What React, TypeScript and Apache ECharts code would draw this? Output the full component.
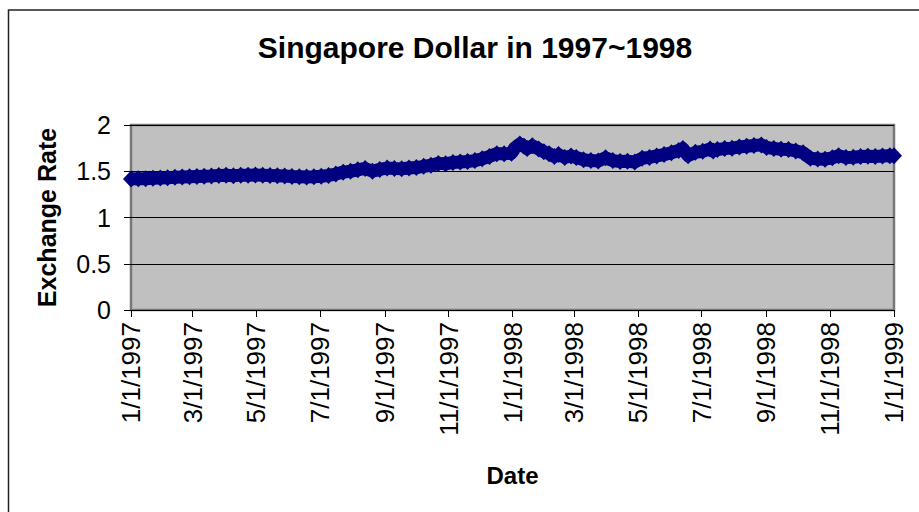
import React, { useEffect, useRef } from "react";
import * as echarts from "echarts";

const chartTitle = "Singapore Dollar in 1997~1998";
const xAxisTitle = "Date";
const yAxisTitle = "Exchange Rate";

const dates: string[] = [
  "1997-01-01", "1997-01-08", "1997-01-15", "1997-01-22", "1997-01-29",
  "1997-02-05", "1997-02-12", "1997-02-19", "1997-02-26",
  "1997-03-05", "1997-03-12", "1997-03-19", "1997-03-26",
  "1997-04-02", "1997-04-09", "1997-04-16", "1997-04-23", "1997-04-30",
  "1997-05-07", "1997-05-14", "1997-05-21", "1997-05-28",
  "1997-06-04", "1997-06-11", "1997-06-18", "1997-06-25",
  "1997-07-02", "1997-07-09", "1997-07-16", "1997-07-23", "1997-07-30",
  "1997-08-06", "1997-08-13", "1997-08-20", "1997-08-27",
  "1997-09-03", "1997-09-10", "1997-09-17", "1997-09-24",
  "1997-10-01", "1997-10-08", "1997-10-15", "1997-10-22", "1997-10-29",
  "1997-11-05", "1997-11-12", "1997-11-19", "1997-11-26",
  "1997-12-03", "1997-12-10", "1997-12-17", "1997-12-24", "1997-12-31",
  "1998-01-03", "1998-01-08", "1998-01-12", "1998-01-15", "1998-01-20", "1998-01-26", "1998-01-31",
  "1998-02-05", "1998-02-10", "1998-02-14", "1998-02-20", "1998-02-26",
  "1998-03-03", "1998-03-10", "1998-03-17", "1998-03-24", "1998-03-31",
  "1998-04-07", "1998-04-14", "1998-04-21", "1998-04-28",
  "1998-05-05", "1998-05-12", "1998-05-19", "1998-05-26",
  "1998-06-02", "1998-06-09", "1998-06-13", "1998-06-18", "1998-06-25",
  "1998-07-02", "1998-07-09", "1998-07-12", "1998-07-16", "1998-07-23", "1998-07-30",
  "1998-08-06", "1998-08-13", "1998-08-20", "1998-08-27",
  "1998-09-01", "1998-09-08", "1998-09-15", "1998-09-22", "1998-09-29",
  "1998-10-06", "1998-10-13", "1998-10-20", "1998-10-27",
  "1998-11-03", "1998-11-09", "1998-11-16", "1998-11-23", "1998-11-30",
  "1998-12-07", "1998-12-14", "1998-12-21", "1998-12-28", "1999-01-01",
];

const rates: number[] = [
  1.415, 1.418, 1.42, 1.425, 1.428,
  1.43, 1.435, 1.438, 1.44,
  1.443, 1.447, 1.45, 1.455,
  1.456, 1.452, 1.458, 1.456, 1.46,
  1.458, 1.455, 1.452, 1.448,
  1.443, 1.44, 1.438, 1.44,
  1.447, 1.455, 1.47, 1.49, 1.5,
  1.515, 1.53, 1.5, 1.52,
  1.535, 1.53, 1.528, 1.535,
  1.54, 1.553, 1.565, 1.585, 1.58,
  1.595, 1.6, 1.605, 1.615,
  1.635, 1.66, 1.69, 1.688, 1.695,
  1.75, 1.795, 1.77, 1.745, 1.775, 1.74, 1.71,
  1.69, 1.66, 1.68, 1.65, 1.665,
  1.65, 1.625, 1.615, 1.612, 1.645,
  1.615, 1.605, 1.608, 1.6,
  1.64, 1.65, 1.665, 1.68,
  1.7, 1.725, 1.745, 1.668, 1.705,
  1.715, 1.74, 1.72, 1.735, 1.745, 1.75,
  1.762, 1.77, 1.778, 1.785,
  1.758, 1.745, 1.738, 1.735, 1.72,
  1.7, 1.64, 1.632, 1.63,
  1.645, 1.668, 1.648, 1.652, 1.66,
  1.662, 1.66, 1.665, 1.668, 1.668,
];

const tickDates: string[] = [
  "1997-01-01", "1997-03-01", "1997-05-01", "1997-07-01", "1997-09-01", "1997-11-01",
  "1998-01-01", "1998-03-01", "1998-05-01", "1998-07-01", "1998-09-01", "1998-11-01",
  "1999-01-01",
];
const tickLabels: string[] = [
  "1/1/1997", "3/1/1997", "5/1/1997", "7/1/1997", "9/1/1997", "11/1/1997",
  "1/1/1998", "3/1/1998", "5/1/1998", "7/1/1998", "9/1/1998", "11/1/1998",
  "1/1/1999",
];
const yTicks: number[] = [0, 0.5, 1, 1.5, 2];

const toTs = (s: string) => {
  const [y, m, d] = s.split("-").map(Number);
  return Date.UTC(y, m - 1, d);
};

const FONT = "'Liberation Sans', Arial, Helvetica, sans-serif";

export default function App() {
  const ref = useRef<HTMLDivElement>(null);
  useEffect(() => {
    if (!ref.current) return;
    const chart = echarts.init(ref.current, null, { renderer: "svg" });
    const tickTs = tickDates.map(toTs);
    const labelMap: Record<number, string> = {};
    tickTs.forEach((t, i) => (labelMap[t] = tickLabels[i]));
    const data = dates.map((d, i) => [toTs(d), rates[i]]);

    chart.setOption({
      animation: false,
      backgroundColor: "#ffffff",
      textStyle: { fontFamily: FONT },
      title: {
        text: chartTitle,
        left: 470,
        top: 27,
        textAlign: "center",
        textStyle: { fontFamily: FONT, fontSize: 30, fontWeight: "bold", color: "#000" },
      },
      graphic: [
        {
          type: "rect",
          shape: { x: 8.5, y: 10, width: 1000, height: 1000 },
          style: { fill: "none", stroke: "#222", lineWidth: 1.5 },
          silent: true,
        },
      ],
      grid: {
        left: 131,
        top: 125,
        right: 25,
        bottom: 202,
        show: true,
        backgroundColor: "#C0C0C0",
        borderColor: "#777777",
        borderWidth: 2.5,
      },
      xAxis: {
        type: "value",
        min: toTs(tickDates[0]),
        max: toTs(tickDates[tickDates.length - 1]),
        name: xAxisTitle,
        nameLocation: "middle",
        nameGap: 153,
        nameTextStyle: { fontFamily: FONT, fontSize: 24, fontWeight: "bold", color: "#000" },
        axisLine: { show: false },
        axisTick: {
          show: true,
          customValues: tickTs,
          length: 7,
          lineStyle: { color: "#000", width: 1 },
        },
        axisLabel: {
          customValues: tickTs,
          rotate: 90,
          margin: 12,
          fontFamily: FONT,
          fontSize: 26,
          color: "#000",
          formatter: (v: number) => labelMap[v] ?? "",
        },
        splitLine: { show: false },
      },
      yAxis: {
        type: "value",
        min: yTicks[0],
        max: yTicks[yTicks.length - 1],
        interval: 0.5,
        name: yAxisTitle,
        nameLocation: "middle",
        nameGap: 72,
        nameRotate: 90,
        nameTextStyle: { fontFamily: FONT, fontSize: 25, fontWeight: "bold", color: "#000" },
        axisLine: { show: false },
        axisTick: { show: true, length: 7, lineStyle: { color: "#000", width: 1 } },
        axisLabel: {
          margin: 20,
          fontFamily: FONT,
          fontSize: 25,
          color: "#000",
          formatter: (v: number) => String(v),
        },
        splitLine: { show: true, lineStyle: { color: "#000", width: 1 } },
      },
      series: [
        {
          type: "line",
          data,
          clip: false,
          symbol: "diamond",
          symbolSize: [16, 17],
          showSymbol: true,
          color: "#000080",
          itemStyle: { color: "#000080" },
          lineStyle: { color: "#000080", width: 13, join: "round" },
          z: 5,
        },
      ],
    });
    return () => chart.dispose();
  }, []);
  return (
    <div
      ref={ref}
      style={{ position: "fixed", left: 0, top: 0, width: 919, height: 512 }}
    />
  );
}
